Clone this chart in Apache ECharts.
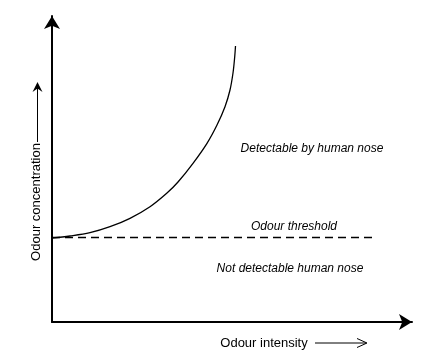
<!DOCTYPE html>
<html>
<head>
<meta charset="utf-8">
<script src="https://cdn.jsdelivr.net/npm/echarts@6/dist/echarts.min.js"></script>
<style>
html,body{margin:0;padding:0;background:#fff;}
#c{width:444px;height:356px;}
</style>
</head>
<body>
<div id="c"></div>
<script>
// Curve: odour concentration vs odour intensity (arbitrary units)
var curveX = [0, 18, 38, 58, 78, 98, 115, 126, 141, 155, 165, 173, 178, 181, 182.7, 183.5];
var curveY = [84, 86, 89.3, 95.3, 103.7, 115.3, 129, 140, 158.7, 178.7, 197, 215.3, 232, 249, 265, 276];
// Odour threshold (dashed)
var thresholdX = [0, 320];
var thresholdY = [84.5, 84.5];
var xName = 'Odour intensity';
var yName = 'Odour concentration';
var annotations = ['Detectable by human nose', 'Odour threshold', 'Not detectable human nose'];

var FONT = '"Liberation Sans", Arial, sans-serif';
var chart = echarts.init(document.getElementById('c'), null, {renderer: 'canvas'});

function zip(a, b) { return a.map(function (v, i) { return [v, b[i]]; }); }

var axisCommon = {
  type: 'value',
  axisLine: {show: true, symbol: ['none', 'arrow'], symbolSize: [12, 13], lineStyle: {color: '#000', width: 2}},
  axisTick: {show: false},
  axisLabel: {show: false},
  splitLine: {show: false}
};

chart.setOption({
  animation: false,
  backgroundColor: '#fff',
  grid: {left: 52, right: 32, top: 16, bottom: 34},
  xAxis: Object.assign({}, axisCommon, {min: 0, max: 360}),
  yAxis: Object.assign({}, axisCommon, {min: 0, max: 306}),
  series: [
    {
      type: 'line', data: zip(curveX, curveY), smooth: 0.35, showSymbol: false,
      lineStyle: {color: '#000', width: 1.3}
    },
    {
      type: 'line', data: zip(thresholdX, thresholdY), showSymbol: false,
      lineStyle: {color: '#000', width: 1.4, type: [8, 5]}
    }
  ],
  graphic: [
    {type: 'text', x: 312, y: 149, style: {text: annotations[0], textAlign: 'center', textVerticalAlign: 'middle', fontStyle: 'italic', fontSize: 12, fontFamily: FONT, fill: '#000'}},
    {type: 'text', x: 294, y: 227, style: {text: annotations[1], textAlign: 'center', textVerticalAlign: 'middle', fontStyle: 'italic', fontSize: 12, fontFamily: FONT, fill: '#000'}},
    {type: 'text', x: 290, y: 269, style: {text: annotations[2], textAlign: 'center', textVerticalAlign: 'middle', fontStyle: 'italic', fontSize: 12, fontFamily: FONT, fill: '#000'}},
    {type: 'text', x: 264, y: 343, style: {text: xName, textAlign: 'center', textVerticalAlign: 'middle', fontSize: 13, fontFamily: FONT, fill: '#000'}},
    {type: 'line', shape: {x1: 315, y1: 343, x2: 366, y2: 343}, style: {stroke: '#000', lineWidth: 1}},
    {type: 'polyline', shape: {points: [[357, 338.5], [367, 343], [357, 347.5]]}, style: {stroke: '#000', lineWidth: 1, fill: null}},
    {type: 'text', x: 36, y: 202, rotation: Math.PI / 2, style: {text: yName, textAlign: 'center', textVerticalAlign: 'middle', fontSize: 13, fontFamily: FONT, fill: '#000'}},
    {type: 'line', shape: {x1: 37.5, y1: 142, x2: 37.5, y2: 88}, style: {stroke: '#000', lineWidth: 1}},
    {type: 'polygon', shape: {points: [[37.5, 82], [32.5, 92], [37.5, 88.5], [42.5, 92]]}, style: {fill: '#000'}}
  ]
});
</script>
</body>
</html>
